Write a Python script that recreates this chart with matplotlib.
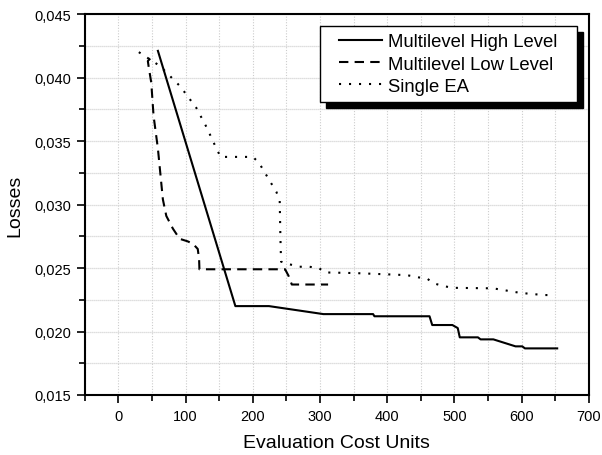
import matplotlib
matplotlib.use("Agg")
from matplotlib import pyplot as plt
from matplotlib.patches import Rectangle
from matplotlib.ticker import MultipleLocator, FuncFormatter

plt.rcParams['font.family'] = ['Liberation Sans', 'DejaVu Sans']

# Multilevel high level (solid)
high_x = [58.7, 174, 224, 305, 379, 381, 463, 467, 497, 505, 508, 535, 539, 558, 591, 601, 605, 653]
high_y = [0.0421, 0.0220, 0.0220, 0.02137, 0.02137, 0.0212, 0.0212, 0.02051, 0.02051, 0.02027,
          0.01954, 0.01954, 0.01938, 0.01938, 0.01883, 0.01883, 0.01867, 0.01867]

# Multilevel low level (dashed)
low_x = [47.3, 43.7, 44.8, 48.8, 52.2, 58.7, 66.1, 71.2, 81, 91, 103, 111, 118, 120, 120.5,
         248, 253, 258, 312]
low_y = [0.0415, 0.0413, 0.0409, 0.0396, 0.0370, 0.0344, 0.0304, 0.0291, 0.0281, 0.0273, 0.0271,
         0.0269, 0.0265, 0.0257, 0.0249, 0.0249, 0.0244, 0.0237, 0.0237]

# Single EA (dotted)
ea_x = [30.3, 62, 92, 116, 131, 145, 152, 200, 209, 218, 227, 235, 240, 241, 242, 254, 269, 284,
        298, 308, 352, 429, 447, 459, 469, 482, 497, 557, 572, 587, 602, 617, 632, 650]
ea_y = [0.0420, 0.0409, 0.0393, 0.0376, 0.0361, 0.0345, 0.03375, 0.03375, 0.0333, 0.0325, 0.0317,
        0.0310, 0.0303, 0.0275, 0.0255, 0.0253, 0.0251, 0.0251, 0.0250, 0.02465, 0.0246, 0.02444,
        0.02426, 0.02418, 0.0238, 0.0236, 0.02344, 0.0234, 0.02328, 0.02313, 0.02302, 0.02295,
        0.02287, 0.02287]

labels = ['Multilevel High Level', 'Multilevel Low Level', 'Single EA']

fig = plt.figure(figsize=(6.02, 4.56), dpi=100)
ax = fig.add_axes([0.141, 0.1316, 0.837, 0.8354])

ax.plot(high_x, high_y, color='black', lw=1.5, label=labels[0])
ax.plot(low_x, low_y, color='black', lw=1.5, dashes=(4.5, 3), label=labels[1])
ax.plot(ea_x, ea_y, color='black', lw=1.5, dashes=(1, 3.8), label=labels[2])

ax.set_xlim(-50, 700)
ax.set_ylim(0.015, 0.045)
ax.xaxis.set_major_locator(MultipleLocator(100))
ax.xaxis.set_minor_locator(MultipleLocator(50))
ax.yaxis.set_major_locator(MultipleLocator(0.005))
ax.yaxis.set_minor_locator(MultipleLocator(0.0025))
ax.yaxis.set_major_formatter(FuncFormatter(lambda v, p: f"{v:.3f}".replace('.', ',')))

ax.grid(which='both', axis='x', color='#cccccc', linestyle=(0, (1, 1.5)), lw=0.8)
ax.grid(which='both', axis='y', color='#d4d4d4', linestyle=(0, (1, 0.6)), lw=0.9)
ax.set_axisbelow(True)

for s in ax.spines.values():
    s.set_linewidth(1.5)
ax.tick_params(which='major', direction='out', length=6, width=1.2, labelsize=10.5, pad=4)
ax.tick_params(which='minor', direction='out', length=4, width=1.2)

ax.set_xlabel('Evaluation Cost Units', fontsize=14, labelpad=8)
ax.set_ylabel('Losses', fontsize=14, labelpad=8)

# legend box with solid black drop shadow
x0, y0, w, h = 0.466, 0.769, 0.510, 0.1995
ax.add_patch(Rectangle((x0 + 0.0119, y0 - 0.0157), w, h, transform=ax.transAxes,
                       facecolor='black', edgecolor='black', zorder=5, clip_on=False))
ax.add_patch(Rectangle((x0, y0), w, h, transform=ax.transAxes,
                       facecolor='white', edgecolor='black', lw=1.0, zorder=6, clip_on=False))
leg = ax.legend(loc='center', bbox_to_anchor=(x0 + w / 2, y0 + h / 2), frameon=False,
                fontsize=13.3, handlelength=2.3, handletextpad=0.3, labelspacing=0.28,
                borderpad=0.0)
leg.set_zorder(7)

fig.savefig('out.png', dpi=100)
